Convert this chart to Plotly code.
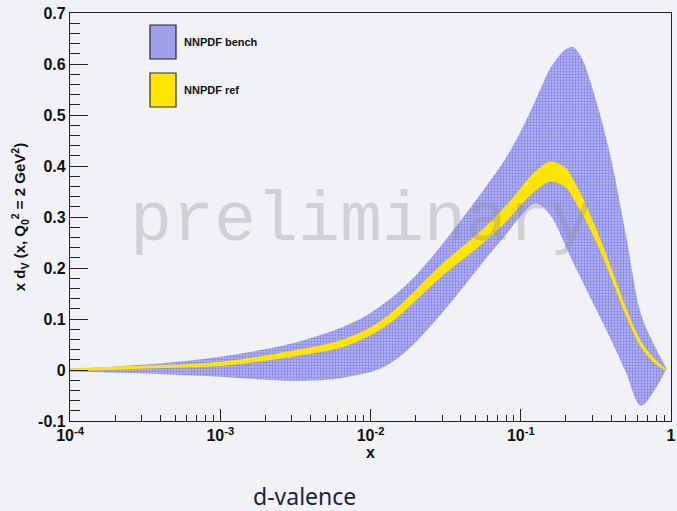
import numpy as np
import plotly.graph_objects as go

log_x = [-4.0, -3.75, -3.5, -3.25, -3.0, -2.75, -2.5, -2.25, -2.125, -2.0, -1.875, -1.75, -1.625, -1.5,
         -1.25, -1.1, -1.0, -0.9, -0.8, -0.7, -0.65, -0.6, -0.5, -0.4, -0.3, -0.2, -0.1, -0.03]

bench_upper = [0.003, 0.006, 0.011, 0.017, 0.026, 0.038, 0.054, 0.077, 0.092, 0.112, 0.138, 0.170, 0.210, 0.255,
               0.352, 0.415, 0.468, 0.530, 0.593, 0.629, 0.633, 0.615, 0.53, 0.415, 0.265, 0.11, 0.042, 0.003]
bench_lower = [-0.003, -0.005, -0.007, -0.010, -0.013, -0.018, -0.021, -0.018, -0.012, -0.004, 0.012, 0.040, 0.078, 0.120,
               0.212, 0.265, 0.302, 0.327, 0.302, 0.242, 0.21, 0.18, 0.12, 0.06, -0.005, -0.07, -0.035, 0.003]

ref_central = [0.001, 0.003, 0.006, 0.008, 0.012, 0.021, 0.033, 0.047, 0.059, 0.076, 0.100, 0.132, 0.168, 0.202,
               0.263, 0.306, 0.340, 0.371, 0.389, 0.377, 0.355, 0.328, 0.266, 0.192, 0.115, 0.051, 0.015, 0.0]
ref_halfwidth = [0.002, 0.003, 0.003, 0.003, 0.004, 0.005, 0.006, 0.007, 0.0075, 0.008, 0.009, 0.010, 0.011, 0.012,
                 0.014, 0.016, 0.017, 0.019, 0.020, 0.019, 0.018, 0.017, 0.013, 0.010, 0.008, 0.006, 0.004, 0.001]

x_tick_vals = [1e-4, 1e-3, 1e-2, 1e-1, 1]
x_tick_text = ["10<sup>-4</sup>", "10<sup>-3</sup>", "10<sup>-2</sup>", "10<sup>-1</sup>", "1"]
y_tick_vals = [-0.1, 0, 0.1, 0.2, 0.3, 0.4, 0.5, 0.6, 0.7]
y_tick_text = ["-0.1", "0", "0.1", "0.2", "0.3", "0.4", "0.5", "0.6", "0.7"]

x = [10 ** v for v in log_x]
ref_lo = [c - h for c, h in zip(ref_central, ref_halfwidth)]
ref_hi = [c + h for c, h in zip(ref_central, ref_halfwidth)]

BG = "#f1f2f7"
BLUE_FG = "#5555e6"
BLUE_BG = "#b4b4f0"
YELLOW = "#ffe500"

fig = go.Figure()
fig.add_trace(go.Scatter(x=x, y=bench_lower, mode="lines", line=dict(width=0, shape="spline", smoothing=1.0),
                         showlegend=False, hoverinfo="skip"))
fig.add_trace(go.Scatter(x=x, y=bench_upper, mode="lines", line=dict(width=0, shape="spline", smoothing=1.0),
                         fill="tonexty", fillcolor="#a0a0ea",
                         fillpattern=dict(shape=".", fgcolor=BLUE_FG, bgcolor=BLUE_BG, size=3, solidity=0.45),
                         name="NNPDF bench", showlegend=False))
fig.add_trace(go.Scatter(x=x, y=ref_lo, mode="lines", line=dict(width=0, shape="spline", smoothing=1.0),
                         showlegend=False, hoverinfo="skip"))
fig.add_trace(go.Scatter(x=x, y=ref_hi, mode="lines", line=dict(width=0, shape="spline", smoothing=1.0),
                         fill="tonexty", fillcolor=YELLOW, name="NNPDF ref", showlegend=False))

W, H = 677, 511
L, R, T, B = 70, 6, 13, 90
pw, ph = W - L - R, H - T - B


def px_x(p):
    return (p - L) / pw


def px_y(p):
    return (H - B - p) / ph


shapes = [
    dict(type="rect", xref="paper", yref="paper", x0=px_x(150), x1=px_x(176), y0=px_y(59), y1=px_y(25),
         fillcolor="#a0a0ea", line=dict(color="#202040", width=1.2)),
    dict(type="rect", xref="paper", yref="paper", x0=px_x(150), x1=px_x(176), y0=px_y(107), y1=px_y(73),
         fillcolor=YELLOW, line=dict(color="#303030", width=1.2)),
]

annotations = [
    dict(text="NNPDF bench", xref="paper", yref="paper", x=px_x(182), y=px_y(42), xanchor="left",
         yanchor="middle", showarrow=False, font=dict(family="Liberation Sans", size=11, color="#111", weight="bold")),
    dict(text="NNPDF ref", xref="paper", yref="paper", x=px_x(182), y=px_y(90), xanchor="left",
         yanchor="middle", showarrow=False, font=dict(family="Liberation Sans", size=11, color="#111", weight="bold")),
    dict(text="preliminary", xref="paper", yref="paper", x=px_x(361), y=px_y(222), xanchor="center",
         yanchor="middle", showarrow=False,
         font=dict(family="Liberation Mono", size=70, color="rgba(140,140,145,0.32)")),
    dict(text="d-valence", xref="paper", yref="paper", x=px_x(304), y=px_y(496), xanchor="center",
         yanchor="middle", showarrow=False, font=dict(family="Noto Sans", size=23, color="#1c2340")),
]

minor_x = [m * 10 ** d for d in range(-4, 0) for m in range(2, 10)]

fig.update_layout(
    width=W, height=H,
    margin=dict(l=L, r=R, t=T, b=B),
    paper_bgcolor=BG, plot_bgcolor=BG,
    shapes=shapes, annotations=annotations,
    showlegend=False,
    xaxis=dict(
        type="log", range=[-4, 0], showgrid=False, zeroline=False, automargin=False,
        showline=True, linecolor="#222", linewidth=1.2, mirror=True,
        tickmode="array", tickvals=x_tick_vals, ticktext=x_tick_text,
        ticks="inside", ticklen=12, tickcolor="#222", tickwidth=1,
        tickfont=dict(family="Liberation Sans", size=16, color="#111", weight="bold"),
        minor=dict(tickvals=minor_x, ticks="inside", ticklen=6, tickcolor="#222", showgrid=False),
        title=dict(text="x", font=dict(family="Liberation Sans", size=16, color="#111", weight="bold"), standoff=0),
    ),
    yaxis=dict(
        range=[-0.1, 0.7], showgrid=False, zeroline=False, automargin=False,
        showline=True, linecolor="#222", linewidth=1.2, mirror=True,
        tickmode="array", tickvals=y_tick_vals, ticktext=y_tick_text,
        ticks="inside", ticklen=18, tickcolor="#222", tickwidth=1,
        tickfont=dict(family="Liberation Sans", size=16, color="#111", weight="bold"),
        minor=dict(dtick=0.02, tick0=0, ticks="inside", ticklen=10, tickcolor="#222", showgrid=False),
        title=dict(text="x d<sub>V</sub> (x, Q<sub>0</sub><sup>2</sup> = 2 GeV<sup>2</sup>)",
                   font=dict(family="Liberation Sans", size=15, color="#111", weight="bold"), standoff=8),
    ),
)

fig.write_html("out.html")
